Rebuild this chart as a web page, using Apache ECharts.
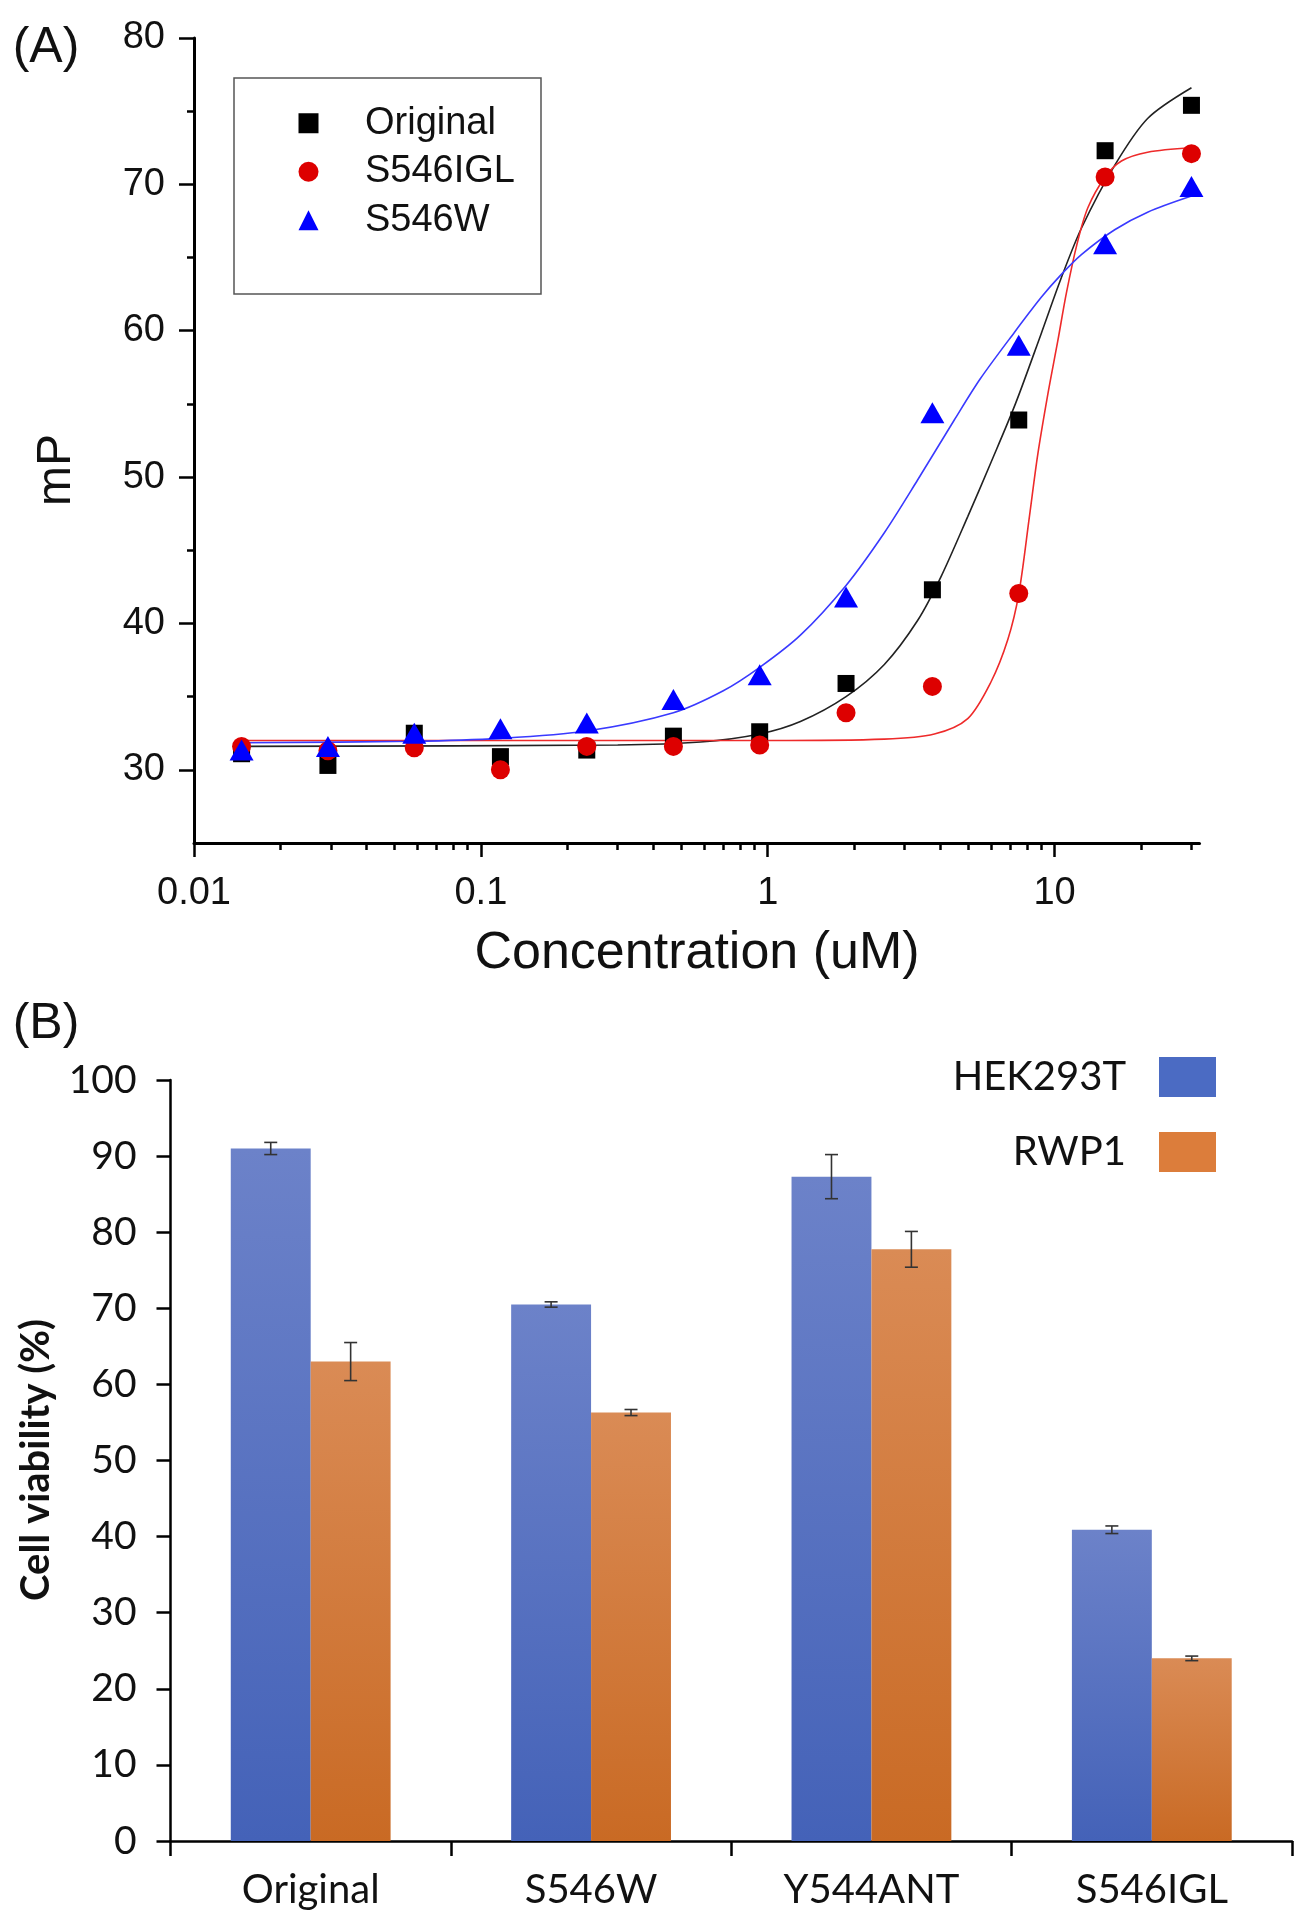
<!DOCTYPE html>
<html>
<head>
<meta charset="utf-8">
<script src="https://cdn.jsdelivr.net/npm/echarts@6/dist/echarts.min.js"></script>
<style>html,body{margin:0;padding:0;background:#fff}#c{width:1308px;height:1920px}</style>
</head>
<body>
<div id="c"></div>
<script>
// ---------- Panel A data ----------
const concentrations = [0.01465, 0.0293, 0.0586, 0.117, 0.234, 0.469, 0.9375, 1.875, 3.75, 7.5, 15, 30];
const originalMP = [31.1, 30.3, 32.5, 30.9, 31.35, 32.3, 32.6, 35.9, 42.3, 53.9, 72.3, 75.4];
const s546iglMP  = [31.6, 31.3, 31.5, 30.0, 31.6, 31.6, 31.7, 33.9, 35.7, 42.05, 70.5, 72.1];
const s546wMP    = [31.35, 31.6, 32.5, 32.8, 33.2, 34.8, 36.5, 41.8, 54.4, 59.0, 65.95, 69.85];

// fitted curves
const originalFitConc = [0.01465, 0.3, 0.583, 0.9375, 1.3, 1.875, 2.55, 3.33, 4.02, 4.98, 6.0, 7.3, 8.98, 10.5, 12.4, 16.2, 21.1, 30];
const originalFitMP   = [31.6, 31.7, 31.9, 32.45, 33.3, 35.0, 37.2, 40.2, 43.2, 47.3, 51.0, 55.0, 59.8, 63.5, 67.0, 71.3, 74.5, 76.6];
const s546iglFitConc = [0.01465, 1.0, 2.55, 3.81, 4.98, 6.0, 6.87, 7.5, 8.17, 8.73, 9.5, 10.26, 11.0, 12.0, 13.06, 15, 17.1, 21.1, 30];
const s546iglFitMP   = [32.0, 32.0, 32.1, 32.45, 33.5, 36.0, 38.9, 42.0, 47.3, 51.5, 55.8, 59.3, 62.6, 66.0, 68.4, 70.5, 71.6, 72.2, 72.5];
const s546wFitConc = [0.01465, 0.0583, 0.117, 0.234, 0.469, 0.7, 0.9375, 1.30, 1.875, 2.55, 3.33, 4.47, 5.5, 7.25, 9.0, 10.5, 12.4, 16.2, 21.1, 30];
const s546wFitMP   = [31.85, 31.95, 32.15, 32.65, 33.9, 35.4, 37.0, 39.2, 42.6, 46.2, 49.8, 53.9, 56.7, 59.9, 62.3, 63.8, 65.2, 66.9, 68.1, 69.2];

const xMajorTicks = [0.01, 0.1, 1, 10];
const xMinorTicks = [0.02,0.03,0.04,0.05,0.06,0.07,0.08,0.09, 0.2,0.3,0.4,0.5,0.6,0.7,0.8,0.9, 2,3,4,5,6,7,8,9, 20,30];
const yMajorTicksA = [30, 40, 50, 60, 70, 80];
const yMinorTicksA = [35, 45, 55, 65, 75];

// ---------- Panel B data ----------
const categories = ['Original', 'S546W', 'Y544ANT', 'S546IGL'];
const hek293t    = [91.0, 70.5, 87.3, 40.9];
const hek293tErr = [0.8, 0.35, 2.9, 0.5];
const rwp1       = [63.0, 56.3, 77.75, 24.0];
const rwp1Err    = [2.5, 0.4, 2.35, 0.3];

// ---------- build ----------
const zip = (a, b) => a.map((v, i) => [v, b[i]]);
const FA = '"Liberation Sans", Arial, sans-serif';
const FB = 'Lato, "Open Sans", sans-serif';
const BAR_FRAC = 0.285;

function errRender(side) {
  return function (params, api) {
    const cat = api.value(0);
    const lo = api.coord([cat, api.value(1)]);
    const hi = api.coord([cat, api.value(2)]);
    const band = api.size([1, 0])[0];
    const x = lo[0] + side * band * BAR_FRAC / 2;
    const cap = 6.5;
    const st = { stroke: '#333', lineWidth: 1.6 };
    return {
      type: 'group',
      children: [
        { type: 'line', shape: { x1: x, y1: lo[1], x2: x, y2: hi[1] }, style: st },
        { type: 'line', shape: { x1: x - cap, y1: lo[1], x2: x + cap, y2: lo[1] }, style: st },
        { type: 'line', shape: { x1: x - cap, y1: hi[1], x2: x + cap, y2: hi[1] }, style: st }
      ]
    };
  };
}

const blueGrad = new echarts.graphic.LinearGradient(0, 0, 0, 1, [
  { offset: 0, color: '#6c82c9' }, { offset: 1, color: '#4462b8' }]);
const orangeGrad = new echarts.graphic.LinearGradient(0, 0, 0, 1, [
  { offset: 0, color: '#da8b55' }, { offset: 1, color: '#c96a24' }]);

const tickLine = { color: '#000', width: 2.5 };

const option = {
  animation: false,
  backgroundColor: '#ffffff',
  grid: [
    { left: 194, top: 38, width: 1005.5, height: 805 },
    { left: 170.5, top: 1080, width: 1121.5, height: 761 }
  ],
  xAxis: [
    { type: 'log', logBase: 10, gridIndex: 0, position: 'bottom', min: 0.01, max: 32,
      axisLine: { show: true, onZero: false, lineStyle: { color: '#000', width: 3 } },
      axisTick: { show: false }, minorTick: { show: false }, splitLine: { show: false },
      axisLabel: { fontFamily: FA, fontSize: 38, color: '#111', margin: 32, showMaxLabel: false } },
    { type: 'value', gridIndex: 0, position: 'bottom', min: -2, max: Math.log10(32),
      axisLine: { show: false, onZero: false }, axisLabel: { show: false }, splitLine: { show: false },
      axisTick: { show: true, length: 14, customValues: xMajorTicks.map(Math.log10), lineStyle: tickLine } },
    { type: 'value', gridIndex: 0, position: 'bottom', min: -2, max: Math.log10(32),
      axisLine: { show: false, onZero: false }, axisLabel: { show: false }, splitLine: { show: false },
      axisTick: { show: true, length: 7, customValues: xMinorTicks.map(Math.log10), lineStyle: tickLine } },
    { type: 'category', gridIndex: 1, position: 'bottom', data: categories,
      axisLine: { show: true, onZero: false, lineStyle: { color: '#000', width: 2.5 } },
      axisTick: { show: true, length: 15, lineStyle: tickLine },
      axisLabel: { fontFamily: FB, fontSize: 40, color: '#111', margin: 29 } }
  ],
  yAxis: [
    { type: 'value', gridIndex: 0, position: 'left', min: 25, max: 80,
      axisLine: { show: true, onZero: false, lineStyle: { color: '#000', width: 3 } },
      splitLine: { show: false },
      axisTick: { show: true, length: 15, customValues: yMajorTicksA, lineStyle: tickLine },
      axisLabel: { customValues: yMajorTicksA, fontFamily: FA, fontSize: 38, color: '#111', margin: 29 } },
    { type: 'value', gridIndex: 0, position: 'left', min: 25, max: 80,
      axisLine: { show: false, onZero: false }, axisLabel: { show: false }, splitLine: { show: false },
      axisTick: { show: true, length: 7, customValues: yMinorTicksA, lineStyle: tickLine } },
    { type: 'value', gridIndex: 1, position: 'left', min: 0, max: 100, interval: 10,
      axisLine: { show: true, onZero: false, lineStyle: { color: '#000', width: 2.5 } },
      splitLine: { show: false },
      axisTick: { show: true, length: 14, lineStyle: tickLine },
      axisLabel: { fontFamily: FB, fontSize: 39, color: '#111', margin: 34 } }
  ],
  legend: [
    { data: ['Original', 'S546IGL', 'S546W'], orient: 'vertical', left: 234, top: 78,
      padding: [21, 26, 49.5, 64.5], borderColor: '#555', borderWidth: 1.5,
      itemWidth: 20, itemHeight: 20, itemGap: 0, selectedMode: false,
      textStyle: { fontFamily: FA, fontSize: 38, color: '#111', lineHeight: 48.5, padding: [0, 0, 0, 41.5] } },
    { data: [{ name: 'HEK293T', itemStyle: { color: '#4b6bc3' } }, { name: 'RWP1', itemStyle: { color: '#dc7d3b' } }],
      orient: 'vertical', right: 92, top: 1057, align: 'right', padding: 0, icon: 'rect',
      itemWidth: 57, itemHeight: 40, itemGap: 35, selectedMode: false,
      textStyle: { fontFamily: FB, fontSize: 40, color: '#111', lineHeight: 40, padding: [0, 28, 0, 0] } }
  ],
  graphic: [
    { type: 'text', x: 46, y: 48, style: { text: '(A)', fontFamily: FA, fontSize: 50, fill: '#111', align: 'center', verticalAlign: 'middle' } },
    { type: 'text', x: 46, y: 1024, style: { text: '(B)', fontFamily: FA, fontSize: 50, fill: '#111', align: 'center', verticalAlign: 'middle' } },
    { type: 'text', x: 57, y: 470, rotation: Math.PI / 2, style: { text: 'mP', fontFamily: FA, fontSize: 48, fill: '#111', align: 'center', verticalAlign: 'middle' } },
    { type: 'text', x: 697, y: 954, style: { text: 'Concentration (uM)', fontFamily: FA, fontSize: 52, fill: '#111', align: 'center', verticalAlign: 'middle' } },
    { type: 'text', x: 36, y: 1460, rotation: Math.PI / 2, style: { text: 'Cell viability (%)', fontFamily: FB, fontWeight: 'bold', fontSize: 40, fill: '#111', align: 'center', verticalAlign: 'middle' } }
  ],
  series: [
    { type: 'line', name: 'Original fit', xAxisIndex: 0, yAxisIndex: 0, data: zip(originalFitConc, originalFitMP),
      showSymbol: false, smooth: 0.3, silent: true, z: 2, lineStyle: { color: '#222', width: 1.6 } },
    { type: 'line', name: 'S546IGL fit', xAxisIndex: 0, yAxisIndex: 0, data: zip(s546iglFitConc, s546iglFitMP),
      showSymbol: false, smooth: 0.3, silent: true, z: 2, lineStyle: { color: '#ee2a2a', width: 1.6 } },
    { type: 'line', name: 'S546W fit', xAxisIndex: 0, yAxisIndex: 0, data: zip(s546wFitConc, s546wFitMP),
      showSymbol: false, smooth: 0.3, silent: true, z: 2, lineStyle: { color: '#3a3aff', width: 1.6 } },
    { type: 'scatter', name: 'Original', xAxisIndex: 0, yAxisIndex: 0, data: zip(concentrations, originalMP),
      symbol: 'rect', symbolSize: 17, itemStyle: { color: '#000000', opacity: 1 }, z: 3 },
    { type: 'scatter', name: 'S546IGL', xAxisIndex: 0, yAxisIndex: 0, data: zip(concentrations, s546iglMP),
      symbol: 'circle', symbolSize: 19, itemStyle: { color: '#dd0000', opacity: 1 }, z: 4 },
    { type: 'scatter', name: 'S546W', xAxisIndex: 0, yAxisIndex: 0, data: zip(concentrations, s546wMP),
      symbol: 'triangle', symbolSize: [24, 21], itemStyle: { color: '#0000ff', opacity: 1 }, z: 5 },
    { type: 'bar', name: 'HEK293T', xAxisIndex: 3, yAxisIndex: 2, data: hek293t,
      barWidth: '28.5%', barGap: '0%', itemStyle: { color: blueGrad } },
    { type: 'bar', name: 'RWP1', xAxisIndex: 3, yAxisIndex: 2, data: rwp1,
      barWidth: '28.5%', barGap: '0%', itemStyle: { color: orangeGrad } },
    { type: 'custom', name: 'HEK293T error', xAxisIndex: 3, yAxisIndex: 2, z: 5, silent: true,
      data: hek293t.map((v, i) => [i, v - hek293tErr[i], v + hek293tErr[i]]), renderItem: errRender(-1) },
    { type: 'custom', name: 'RWP1 error', xAxisIndex: 3, yAxisIndex: 2, z: 5, silent: true,
      data: rwp1.map((v, i) => [i, v - rwp1Err[i], v + rwp1Err[i]]), renderItem: errRender(1) }
  ]
};

const chart = echarts.init(document.getElementById('c'), null, { renderer: 'canvas', width: 1308, height: 1920 });
chart.setOption(option);
</script>
</body>
</html>
